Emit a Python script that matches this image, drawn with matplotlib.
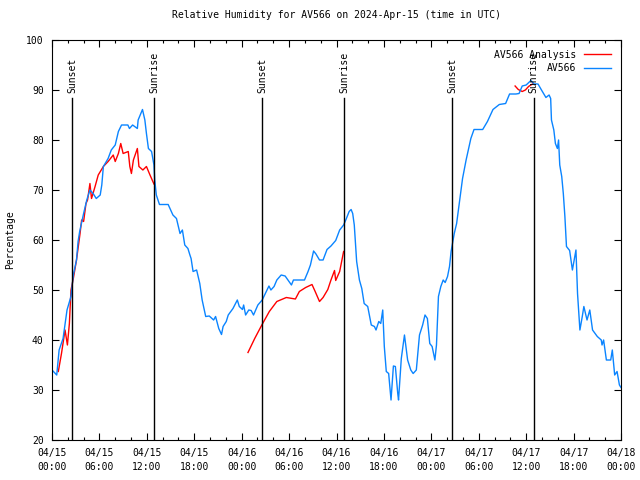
import numpy as np
import matplotlib
matplotlib.use('Agg')
import matplotlib.pyplot as plt
from matplotlib.ticker import MultipleLocator

# hours since 04/15 00:00 UTC, relative humidity in %
blue_h = [0.0, 0.6, 0.9, 1.4, 1.9, 2.4, 2.7, 3.1, 3.3, 3.5, 4.0, 4.4, 4.8, 5.2, 5.6, 6.1, 6.3, 6.5,
          7.1, 7.5, 8.0, 8.4, 8.8, 9.6, 9.8, 10.2, 10.8, 10.9, 11.45, 11.75, 11.95, 12.2, 12.6, 12.9,
          13.0, 13.2, 13.6, 14.7, 15.3, 15.75, 16.2, 16.5, 16.8, 17.2, 17.45, 17.6, 17.85, 18.3, 18.7,
          19.0, 19.45, 19.9, 20.45, 20.7, 21.1, 21.45, 21.65, 22.05, 22.3, 22.9, 23.45, 23.7, 24.1,
          24.25, 24.5, 24.9, 25.2, 25.5, 26.05, 26.6, 27.0, 27.45, 27.7, 28.1, 28.45, 29.0, 29.5,
          29.85, 30.3, 30.55, 31.95, 32.4, 32.7, 33.1, 33.4, 33.85, 34.3, 34.8, 35.3, 35.9, 36.4,
          36.9, 37.2, 37.6, 37.85, 38.05, 38.25, 38.55, 38.9, 39.2, 39.5, 39.95, 40.4, 40.8, 41.0,
          41.35, 41.6, 41.85, 42.05, 42.3, 42.6, 42.9, 43.2, 43.45, 43.75, 43.85, 44.2, 44.6, 45.0,
          45.4, 45.7, 46.1, 46.5, 46.9, 47.2, 47.5, 47.8, 48.1, 48.45, 48.65, 48.9, 49.2, 49.5,
          49.75, 50.05, 50.3, 50.5, 50.9, 51.2, 51.45, 51.6, 51.95, 52.4, 53.0, 53.4, 54.5, 55.1,
          55.8, 56.6, 57.4, 57.9, 58.7, 59.1, 59.5, 60.0, 60.6, 61.0, 61.5, 61.9, 62.5, 62.9, 63.1,
          63.2, 63.5, 63.7, 63.95, 64.1, 64.25, 64.5, 64.7, 64.9, 65.1, 65.5, 65.85, 66.3, 66.5,
          66.8, 67.1, 67.3, 67.7, 68.05, 68.4, 69.0, 69.5, 69.6, 69.8, 70.15, 70.7, 70.9, 71.2,
          71.5, 71.8, 72.0]
blue_v = [34, 33, 38, 40.3, 46, 48.7, 53, 56, 59.7, 61.7, 65.3, 68, 70, 69.3, 68.3, 69, 71, 74.7,
          76.3, 78, 79, 81.7, 83, 83, 82.3, 83, 82.3, 84, 86.1, 84, 81.3, 78.3, 77.7, 75,
          72, 69, 67.1, 67.1, 65, 64.3, 61.3, 62, 59, 58.3, 57, 56.3, 53.7, 54, 51.3,
          48, 44.7, 44.8, 44, 44.7, 42.3, 41.1, 42.7, 43.7, 45, 46.3, 48, 46.7, 46.1,
          47, 45, 46, 45.9, 45, 47, 48, 49.3, 50.8, 50, 50.7, 52, 53, 52.8,
          52, 51, 52, 52, 53.7, 55, 57.8, 57.2, 56, 56, 58.1, 58.8, 59.9, 62,
          63, 64.1, 65.7, 66.1, 65.3, 63, 55.7, 52, 50.3, 47.3, 46.7, 43, 42.7, 42,
          43.7, 43.3, 46, 38.7, 33.7, 33.3, 28, 34.8, 34.7, 29.3, 28, 36.3, 41, 36,
          34, 33.3, 34, 41, 43, 45, 44.3, 39.3, 38.7, 36, 39, 48.7, 50.7, 52,
          51.5, 52.7, 54.7, 57.7, 61.3, 63.3, 66.3, 68, 72.3, 76, 80.3, 82.1, 82.1, 83.7,
          86.1, 87.1, 87.3, 89.2, 89.2, 89.3, 90.8, 91, 91.9, 91.2, 91.2, 90.1, 88.5, 89, 88.3,
          84, 82, 79.3, 78.3, 80, 75, 72.7, 69.3, 64.7, 58.7, 57.9, 54, 58, 49.3,
          42, 44.7, 46.7, 44, 46, 42, 40.7, 40, 39, 40, 36, 36, 38, 33,
          33.7, 31, 30.5]

# analysis series (three pieces)
red1_h = [0.8, 1.2, 1.65, 1.95, 2.2, 2.4, 2.7, 3.1, 3.55, 3.75, 4.0, 4.3, 4.5, 4.8, 5.0, 5.45, 5.85,
          6.5, 7.1, 7.75, 8.0, 8.4, 8.7, 9.0, 9.65, 9.85, 10.05, 10.3, 10.8, 11.0, 11.5, 11.95,
          12.4, 12.9]
red1_v = [33.7, 37.3, 42, 39, 43.3, 50, 52.3, 56, 61.3, 64, 63.7, 67.3, 68, 71.3, 68.3, 70.7, 73,
          74.7, 75.7, 77, 75.7, 77.3, 79.3, 77.3, 77.7, 74.7, 73.3, 76, 78.3, 74.7, 74, 74.7,
          73, 71.2]
red2_h = [24.8, 25.65, 26.55, 27.5, 28.45, 29.65, 30.8, 31.3, 32.1, 32.9, 33.3, 33.85, 34.3, 34.9,
          35.3, 35.75, 35.9, 36.4, 36.9]
red2_v = [37.5, 40.3, 43, 45.7, 47.7, 48.5, 48.2, 49.7, 50.5, 51.1, 49.7, 47.7, 48.5, 50.1,
          52, 53.9, 51.9, 53.7, 57.7]
red3_h = [58.6, 59.0, 59.5, 59.9, 60.3, 60.8]
red3_v = [90.8, 90.1, 89.7, 90, 90.7, 91.2]

sunset_h = [2.57, 26.6, 50.6]
sunrise_h = [12.95, 37.0, 60.95]

xtick_h = list(range(0, 73, 6))
xtick_labels = ['04/15\n00:00', '04/15\n06:00', '04/15\n12:00', '04/15\n18:00',
                '04/16\n00:00', '04/16\n06:00', '04/16\n12:00', '04/16\n18:00',
                '04/17\n00:00', '04/17\n06:00', '04/17\n12:00', '04/17\n18:00',
                '04/18\n00:00']

plt.rcParams['font.family'] = 'DejaVu Sans Mono'
plt.rcParams['font.size'] = 7

fig = plt.figure(figsize=(6.4, 4.8), dpi=100)
ax = fig.add_axes([52/640, 1 - 440/480, (621-52)/640, 400/480])

blue = '#0a84ff'
red = '#ff0000'
ax.plot(red1_h, red1_v, color=red, lw=1.0, label='AV566 Analysis')
ax.plot(red2_h, red2_v, color=red, lw=1.0)
ax.plot(red3_h, red3_v, color=red, lw=1.0)
ax.plot(blue_h, blue_v, color=blue, lw=1.0, label='AV566')

for h in sunset_h:
    ax.plot([h, h], [20, 88.4], color='black', lw=1.0)
    ax.text(h, 89.4, 'Sunset', rotation=90, ha='center', va='bottom')
for h in sunrise_h:
    ax.plot([h, h], [20, 88.4], color='black', lw=1.0)
    ax.text(h, 89.4, 'Sunrise', rotation=90, ha='center', va='bottom')

ax.set_xlim(0, 72)
ax.set_ylim(20, 100)
ax.set_xticks(xtick_h)
ax.set_xticklabels(xtick_labels, linespacing=1.45)
ax.xaxis.set_minor_locator(MultipleLocator(2))
ax.set_yticks(range(20, 101, 10))
ax.tick_params(which='both', direction='in', top=True, right=True, color='black')
ax.tick_params(which='major', length=5, width=0.8, pad=6)
ax.tick_params(which='minor', length=2.5, width=0.8)
for s in ax.spines.values():
    s.set_linewidth(0.8)

ax.set_title('Relative Humidity for AV566 on 2024-Apr-15 (time in UTC)', fontsize=7, pad=16)
ax.set_ylabel('Percentage', labelpad=8)

ax.legend(loc='upper right', frameon=False, markerfirst=False, handlelength=2.8,
          handletextpad=0.8, borderaxespad=0.6, labelspacing=0.35)

fig.savefig('out.png', dpi=100)
